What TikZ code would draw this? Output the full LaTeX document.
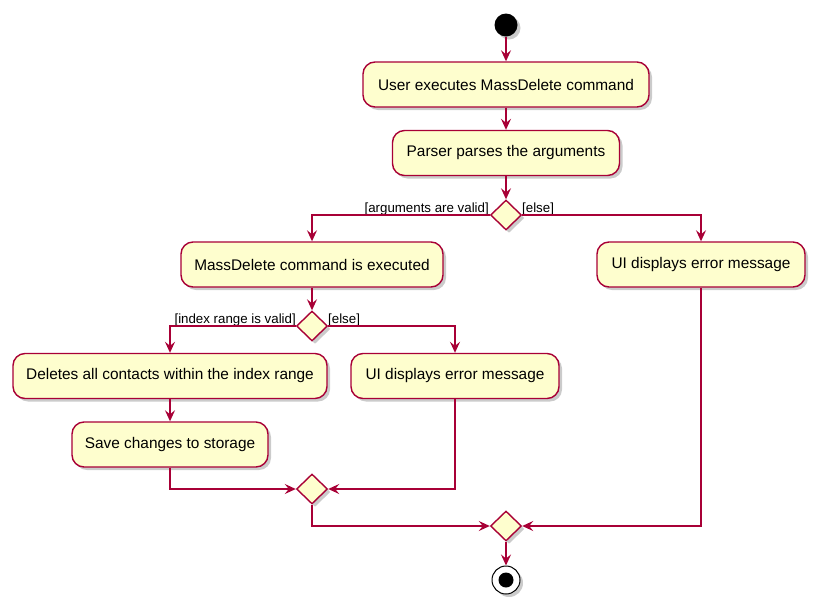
\documentclass[tikz,border=0pt]{standalone}
\usepackage{fontspec}
\setmainfont{Liberation Sans}
\usetikzlibrary{arrows.meta,shapes.geometric,shadows}
\definecolor{pborder}{HTML}{A80036}
\definecolor{pfill}{HTML}{FEFECE}
\begin{document}
\begin{tikzpicture}[x=1pt,y=-1pt,
  shad/.style={drop shadow={shadow xshift=3pt,shadow yshift=-3pt,fill=black!45,opacity=0.45}},
  act/.style={draw=pborder, fill=pfill, line width=1.4pt, rounded corners=12pt,
    minimum height=45pt, inner sep=0pt, font=\fontsize{15.4}{18}\selectfont, shad},
  dec/.style={diamond, draw=pborder, fill=pfill, line width=1.4pt, minimum width=31pt,
    minimum height=30pt, inner sep=0pt, shad},
  flow/.style={draw=pborder, line width=1.4pt, -{Stealth[length=11pt,width=10pt,inset=4pt]}},
  lbl/.style={font=\fontsize{13.3}{15}\selectfont, inner sep=0pt}]
\useasboundingbox (0,0) rectangle (823,614);
\node[circle, fill=black, minimum size=23pt, inner sep=0pt, shad] (start) at (506,25) {};
\node[act, minimum width=286pt] (a1) at (506,84.5) {User executes MassDelete command};
\node[act, minimum width=227pt] (a2) at (506,153) {Parser parses the arguments};
\node[dec] (d1) at (506,215) {};
\node[act, minimum width=262pt] (a3) at (312,264.5) {MassDelete command is executed};
\node[act, minimum width=208pt] (a4) at (701,264.5) {UI displays error message};
\node[dec] (d2) at (312,326) {};
\node[act, minimum width=314pt] (a5) at (170,376) {Deletes all contacts within the index range};
\node[act, minimum width=208pt] (a6) at (455,376) {UI displays error message};
\node[act, minimum width=196pt] (a7) at (170,444.5) {Save changes to storage};
\node[dec] (d3) at (312,489) {};
\node[dec] (d4) at (506,526) {};
\node[circle, draw=black, fill=white, line width=1pt, minimum size=28pt, inner sep=0pt, shad] (end) at (506,580) {};
\fill[black] (end.center) circle[radius=7.5pt];

\node[lbl, anchor=base east] (l1) at (489,212) {[arguments are valid]};
\node[lbl, anchor=base west] (l2) at (522,212) {[else]};
\node[lbl, anchor=base east] (l3) at (296,323) {[index range is valid]};
\node[lbl, anchor=base west] (l4) at (328,323) {[else]};

\draw[flow] (start) -- (a1);
\draw[flow] (a1) -- (a2);
\draw[flow] (a2) -- (d1);
\draw[flow] (d1.west) -| (a3);
\draw[flow] (d1.east) -| (a4);
\draw[flow] (a3) -- (d2);
\draw[flow] (d2.west) -| (a5);
\draw[flow] (d2.east) -| (a6);
\draw[flow] (a5) -- (a7);
\draw[flow] (a7) |- (d3.west);
\draw[flow] (a6) |- (d3.east);
\draw[flow] (d3) |- (d4.west);
\draw[flow] (a4) |- (d4.east);
\draw[flow] (d4) -- (end);
\end{tikzpicture}
\end{document}
